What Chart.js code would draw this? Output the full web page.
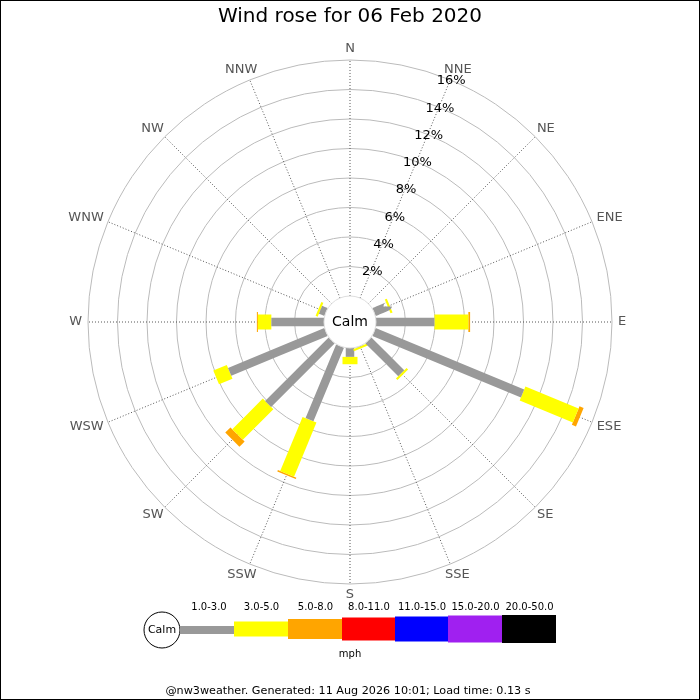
<!DOCTYPE html>
<html><head><meta charset="utf-8">
<script src="https://cdn.jsdelivr.net/npm/chart.js@4.4.1/dist/chart.umd.min.js"></script>
<style>html,body{margin:0;padding:0;background:#fff}#wrap{width:700px;height:700px;position:relative}</style>
</head><body><div id="wrap"><canvas id="c"></canvas></div>
<script>
const directions = ['N','NNE','NE','ENE','E','ESE','SE','SSE','S','SSW','SW','WSW','W','WNW','NW','NNW'];
// percentage of time in each speed band, per direction
const band1to3   = [0,0,0,1.0,3.96,10.9,3.15,0.03,0.6,5.41,6.09,7.07,3.57,0.4,0,0];
const band3to5   = [0,0,0,0.15,2.3,3.9,0.15,0.14,0.5,3.97,2.93,0.99,0.91,0.15,0,0];
const band5to8   = [0,0,0,0,0.12,0.3,0,0,0,0.1,0.5,0,0.07,0,0,0];
const bandLabels = ['1.0-3.0','3.0-5.0','5.0-8.0','8.0-11.0','11.0-15.0','15.0-20.0','20.0-50.0'];
const bandColors = ['#999999','#ffff00','#ffa500','#ff0000','#0000ff','#a020f0','#000000'];
const ringTicks  = [2,4,6,8,10,12,14,16];
const calmLabel = 'Calm';
const titleText = 'Wind rose for 06 Feb 2020';
const footerText = '@nw3weather. Generated: 11 Aug 2026 10:01; Load time: 0.13 s';
const unitLabel = 'mph';

const CALM = 1.763;   // radius of calm circle in % units
const RMAX = 16;
const bandWidths = [8.5,15,20,23,25,27,28];
const series = [band1to3, band3to5, band5to8];

function pt(dirIdx, r) {
  const a = dirIdx * Math.PI / 8;
  return {x: (r + CALM) * Math.sin(a), y: (r + CALM) * Math.cos(a)};
}

const datasets = [];
directions.forEach((d, i) => {
  let cum = 0;
  series.forEach((s, b) => {
    const v = s[i];
    if (v > 0) {
      datasets.push({
        label: d + ' ' + bandLabels[b],
        data: [pt(i, cum), pt(i, cum + v)],
        showLine: true,
        tension: 0.000001,
        borderColor: bandColors[b],
        backgroundColor: bandColors[b],
        borderWidth: bandWidths[b],
        borderCapStyle: 'butt',
        borderJoinStyle: 'bevel',
        pointRadius: 0,
        pointHoverRadius: 0,
        fill: false
      });
    }
    cum += v;
  });
});

const FONT = '"DejaVu Sans", sans-serif';

const rosePlugin = {
  id: 'rose',
  beforeDatasetsDraw(chart) {
    const ctx = chart.ctx, xs = chart.scales.x, ys = chart.scales.y;
    const cx = xs.getPixelForValue(0), cy = ys.getPixelForValue(0);
    const k = xs.getPixelForValue(1) - cx;
    ctx.save();
    ctx.strokeStyle = '#bbbbbb'; ctx.lineWidth = 1;
    ringTicks.forEach(t => {
      ctx.beginPath(); ctx.arc(cx, cy, (t + CALM) * k, 0, Math.PI * 2); ctx.stroke();
    });
    ctx.strokeStyle = '#555555'; ctx.setLineDash([1,2]);
    directions.forEach((d, i) => {
      const a = i * Math.PI / 8;
      ctx.beginPath();
      ctx.moveTo(cx + CALM * k * Math.sin(a), cy - CALM * k * Math.cos(a));
      ctx.lineTo(cx + (RMAX + CALM) * k * Math.sin(a), cy - (RMAX + CALM) * k * Math.cos(a));
      ctx.stroke();
    });
    ctx.setLineDash([]);
    ctx.restore();
  },
  afterDatasetsDraw(chart) {
    const ctx = chart.ctx, xs = chart.scales.x, ys = chart.scales.y;
    const cx = xs.getPixelForValue(0), cy = ys.getPixelForValue(0);
    const k = xs.getPixelForValue(1) - cx;
    ctx.save();
    // calm circle
    ctx.beginPath(); ctx.arc(cx, cy, CALM * k, 0, Math.PI * 2);
    ctx.fillStyle = '#fff'; ctx.fill();
    ctx.strokeStyle = '#dddddd'; ctx.lineWidth = 1; ctx.stroke();
    ctx.fillStyle = '#000'; ctx.font = '14px ' + FONT;
    ctx.textAlign = 'center'; ctx.textBaseline = 'middle';
    ctx.fillText(calmLabel, cx, cy);
    // direction labels
    ctx.fillStyle = '#555555'; ctx.font = '13px ' + FONT;
    directions.forEach((d, i) => {
      const a = i * Math.PI / 8;
      const r = (RMAX + CALM) * k + 6;
      const w = ctx.measureText(d).width;
      const x = cx + r * Math.sin(a) + (w / 2) * Math.sin(a);
      const y = cy - r * Math.cos(a) - 5 * Math.cos(a);
      ctx.fillText(d, x, y);
    });
    // percentage labels along NNE
    ctx.fillStyle = '#000'; ctx.font = '13px ' + FONT;
    const a = Math.PI / 8;
    ringTicks.forEach(t => {
      const r = (t + CALM) * k;
      ctx.fillText(t + '%', cx + r * Math.sin(a) + 1, cy - r * Math.cos(a) + 1);
    });
    ctx.restore();
  },
  afterDraw(chart) {
    const ctx = chart.ctx;
    ctx.save();
    // legend
    const ly = 629;
    ctx.beginPath(); ctx.arc(162, 630, 18, 0, Math.PI * 2);
    ctx.fillStyle = '#fff'; ctx.fill();
    ctx.strokeStyle = '#000'; ctx.lineWidth = 1; ctx.stroke();
    ctx.fillStyle = '#000'; ctx.font = '11px ' + FONT;
    ctx.textAlign = 'center'; ctx.textBaseline = 'middle';
    ctx.fillText(calmLabel, 162, 630);
    const xsL = [180, 234, 288, 342, 395, 448, 502, 556];
    const hs = [8,15,20,23,25,27,28];
    ctx.font = '10px ' + FONT;
    bandLabels.forEach((lab, b) => {
      const x0 = xsL[b], x1 = xsL[b + 1];
      ctx.fillStyle = bandColors[b];
      ctx.fillRect(x0, ly - hs[b] / 2 + (b === 0 ? 1 : 0), x1 - x0, hs[b]);
      ctx.fillStyle = '#000';
      ctx.fillText(lab, b === 0 ? 209 : (x0 + x1) / 2 + 0.5, 607);
    });
    ctx.fillText(unitLabel, 350, 654);
    ctx.font = '11.2px ' + FONT;
    ctx.fillText(footerText, 348, 691);
    // frame
    ctx.strokeStyle = '#000'; ctx.lineWidth = 2;
    ctx.strokeRect(0, 0, 700, 700);
    ctx.restore();
  }
};

new Chart(document.getElementById('c'), {
  type: 'scatter',
  data: { datasets },
  options: {
    responsive: true,
    maintainAspectRatio: false,
    animation: false,
    events: [],
    layout: { padding: { left: 88, right: 88, top: 0, bottom: 116 } },
    scales: {
      x: { type: 'linear', display: false, min: -(RMAX + CALM), max: RMAX + CALM },
      y: { type: 'linear', display: false, min: -(RMAX + CALM), max: RMAX + CALM }
    },
    plugins: {
      legend: { display: false },
      tooltip: { enabled: false },
      title: { display: true, text: titleText, color: '#000',
               font: { family: 'DejaVu Sans', size: 20, weight: 'normal', lineHeight: 1.2 },
               padding: { top: 5, bottom: 31 } }
    }
  },
  plugins: [rosePlugin]
});
</script>
</body></html>
